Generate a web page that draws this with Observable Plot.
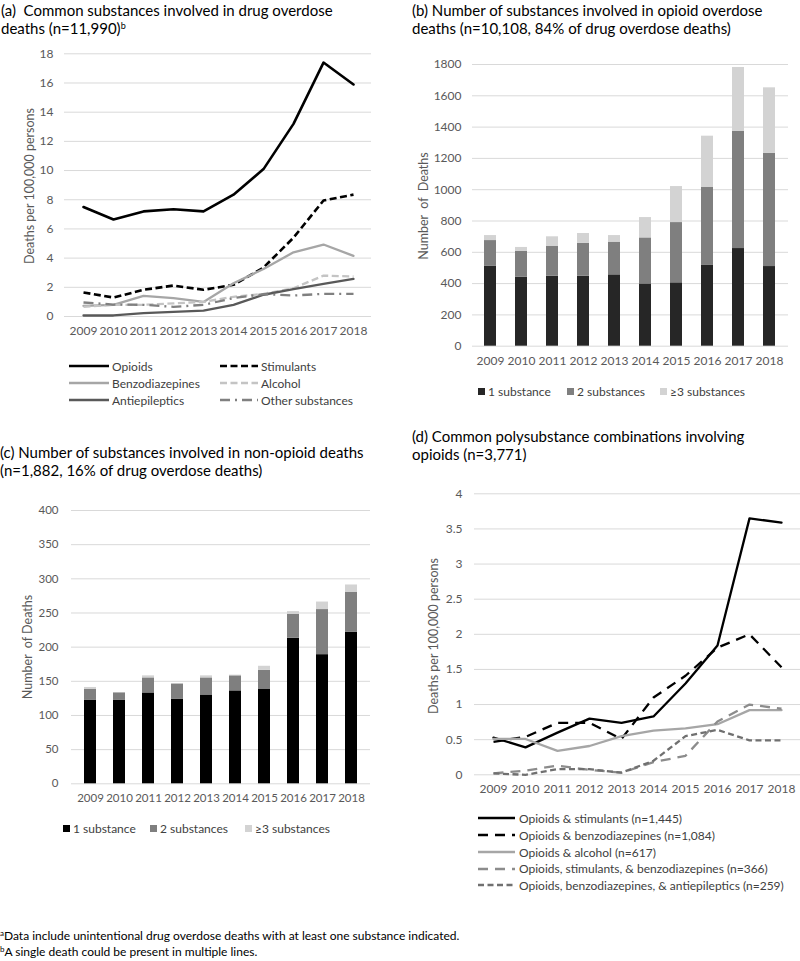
<!DOCTYPE html>
<html><head><meta charset="utf-8">
<script src="https://cdn.jsdelivr.net/npm/d3@7"></script>
<script src="https://cdn.jsdelivr.net/npm/@observablehq/plot@0.6"></script>
<style>
body{margin:0;background:#fff;}
#root{position:relative;width:800px;height:961px;overflow:hidden;font-family:Lato,sans-serif;color:#000;background:#fff;}
.abs{position:absolute;}
.title{font-size:15px;line-height:18px;white-space:nowrap;}
.title sup{font-size:9px;vertical-align:top;position:relative;top:-2px;}
.ylab{font-size:12.5px;color:#595959;white-space:nowrap;transform:translate(-50%,-50%) rotate(-90deg);}
.leg{font-size:12px;color:#404040;white-space:nowrap;display:flex;align-items:center;height:16px;}
.foot{font-size:12px;white-space:nowrap;line-height:16px;}
.foot sup{font-size:8px;vertical-align:top;position:relative;top:-3px;}
</style></head><body><div id="root"></div>
<script>
// ---------- data ----------
const years = ["2009","2010","2011","2012","2013","2014","2015","2016","2017","2018"];

// (a) rates per 100,000
const aOpioids        = [7.5, 6.65, 7.2, 7.35, 7.2, 8.35, 10.1, 13.2, 17.4, 15.9];
const aStimulants     = [1.65, 1.3, 1.83, 2.12, 1.83, 2.17, 3.35, 5.4, 7.95, 8.35];
const aBenzodiazepines= [0.73, 0.8, 1.42, 1.26, 1.0, 2.28, 3.25, 4.4, 4.93, 4.15];
const aAlcohol        = [0.66, 0.8, 0.8, 0.9, 1.0, 1.35, 1.55, 1.94, 2.8, 2.74];
const aAntiepileptics = [0.07, 0.07, 0.23, 0.32, 0.4, 0.8, 1.49, 1.88, 2.24, 2.58];
const aOther          = [0.96, 0.82, 0.8, 0.66, 0.8, 1.26, 1.53, 1.44, 1.55, 1.55];
const aNames = ["Opioids","Stimulants","Benzodiazepines","Alcohol","Antiepileptics","Other substances"];

// (b) opioid deaths by number of substances
const bOne   = [510, 440, 447, 447, 456, 398, 405, 516, 624, 509];
const bTwo   = [165, 167, 190, 211, 209, 294, 385, 498, 748, 724];
const bThree = [32, 24, 62, 62, 42, 130, 230, 328, 409, 418];

// (c) non-opioid deaths by number of substances
const cOne   = [122, 122, 133, 124, 130, 136, 138, 213, 189, 222];
const cTwo   = [16, 11, 22, 22, 25, 22, 28, 35, 66, 58];
const cThree = [3, 0, 3, 0, 3, 1, 6, 4, 11, 11];
const groups = ["1 substance","2 substances","≥3 substances"];

// (d) polysubstance combinations
const dStim      = [0.53, 0.39, 0.6, 0.8, 0.74, 0.83, 1.3, 1.84, 3.65, 3.59];
const dBenzo     = [0.47, 0.54, 0.74, 0.74, 0.51, 1.1, 1.41, 1.81, 2.0, 1.53];
const dAlcohol   = [0.51, 0.51, 0.34, 0.41, 0.55, 0.63, 0.66, 0.72, 0.92, 0.92];
const dStimBenzo = [0.02, 0.06, 0.13, 0.07, 0.03, 0.18, 0.27, 0.76, 1.0, 0.94];
const dBenzoAed  = [0.02, 0.0, 0.08, 0.08, 0.03, 0.2, 0.55, 0.64, 0.49, 0.49];
const dNames = ["Opioids & stimulants (n=1,445)","Opioids & benzodiazepines (n=1,084)","Opioids & alcohol (n=617)",
  "Opioids, stimulants, & benzodiazepines (n=366)","Opioids, benzodiazepines, & antiepileptics (n=259)"];

const aTicks = [0,2,4,6,8,10,12,14,16,18];
const bTicks = [0,200,400,600,800,1000,1200,1400,1600,1800];
const cTicks = [0,50,100,150,200,250,300,350,400];
const dTicks = [0,0.5,1,1.5,2,2.5,3,3.5,4];

// ---------- styles ----------
const aStyles = [
  {stroke:"#000000", width:2.6, dash:null},
  {stroke:"#000000", width:2.6, dash:"7,3.5"},
  {stroke:"#a6a6a6", width:2.3, dash:null},
  {stroke:"#c4c4c4", width:2.3, dash:"7,3.5"},
  {stroke:"#595959", width:2.3, dash:null},
  {stroke:"#808080", width:2.3, dash:"10,5,2,5"}
];
const dStyles = [
  {stroke:"#000000", width:2.3, dash:null},
  {stroke:"#000000", width:2.3, dash:"10,7"},
  {stroke:"#a6a6a6", width:2.3, dash:null},
  {stroke:"#8c8c8c", width:2.3, dash:"10,7"},
  {stroke:"#707070", width:2.3, dash:"6,3.5"}
];
const bColors = ["#262626","#7f7f7f","#d3d3d3"];
const cColors = ["#000000","#7f7f7f","#d3d3d3"];

const root = document.getElementById("root");
function add(html, cls, left, top){
  const d = document.createElement("div");
  d.className = "abs " + cls;
  d.style.left = left + "px"; d.style.top = top + "px";
  d.innerHTML = html; root.appendChild(d); return d;
}
const fmt = d => String(d);

function linePanel(seriesVals, styles, ticks, o){
  const marks = [
    Plot.gridY(ticks, {stroke:"#d9d9d9", strokeOpacity:1, strokeWidth:1}),
    Plot.axisY(ticks, {tickSize:0, tickPadding:o.padY, label:null, tickFormat:fmt, fill:"#595959"}),
    Plot.axisX({tickSize:0, tickPadding:10, label:null, fill:"#595959"})
  ];
  seriesVals.forEach((vals, i) => {
    const s = styles[i];
    marks.push(Plot.line(years.map((y,j)=>({year:y, value:vals[j]})), {
      x:"year", y:"value", stroke:s.stroke, strokeWidth:s.width,
      strokeDasharray:s.dash || undefined, strokeLinejoin:"round", strokeLinecap: s.dash ? "butt" : "round"
    }));
  });
  const svg = Plot.plot({
    width:o.width, height:o.height,
    marginLeft:o.ml, marginRight:o.mr, marginTop:o.mt, marginBottom:o.mb,
    style:{fontFamily:"Lato, sans-serif", fontSize:(o.fs || 12) + "px", background:"transparent", overflow:"visible"},
    x:{type:"point", domain:years, padding:0.5},
    y:{domain:[ticks[0], ticks[ticks.length-1]]},
    marks
  });
  const wrap = add("", "", o.left, o.top);
  wrap.appendChild(svg);
}

function barPanel(vals, colors, ticks, o){
  const rows = [];
  vals.forEach((arr, g) => years.forEach((y,j) => rows.push({year:y, group:groups[g], value:arr[j]})));
  const svg = Plot.plot({
    width:o.width, height:o.height,
    marginLeft:o.ml, marginRight:o.mr, marginTop:o.mt, marginBottom:o.mb,
    style:{fontFamily:"Lato, sans-serif", fontSize:(o.fs || 12) + "px", background:"transparent", overflow:"visible"},
    x:{type:"band", domain:years, paddingInner:0.6, paddingOuter:0.3},
    y:{domain:[ticks[0], ticks[ticks.length-1]]},
    color:{domain:groups, range:colors},
    marks:[
      Plot.gridY(ticks, {stroke:"#d9d9d9", strokeOpacity:1, strokeWidth:1}),
      Plot.axisY(ticks, {tickSize:0, tickPadding:o.padY, label:null, tickFormat:fmt, fill:"#595959"}),
      Plot.axisX({tickSize:0, tickPadding:10, label:null, fill:"#595959"}),
      Plot.barY(rows, {x:"year", y:"value", fill:"group"})
    ]
  });
  const wrap = add("", "", o.left, o.top);
  wrap.appendChild(svg);
}

// ---------- panel (a) ----------
linePanel([aOpioids,aStimulants,aBenzodiazepines,aAlcohol,aAntiepileptics,aOther], aStyles, aTicks,
  {left:0, top:0, width:400, height:345, ml:64, mr:29, mt:53.3, mb:29, padY:11});
// ---------- panel (b) ----------
barPanel([bOne,bTwo,bThree], bColors, bTicks,
  {left:400, top:0, width:400, height:375, ml:72, mr:12, mt:64, mb:29.3, padY:11});
// ---------- panel (c) ----------
barPanel([cOne,cTwo,cThree], cColors, cTicks,
  {left:0, top:480, width:400, height:333, ml:71, mr:30, mt:30, mb:29.7, padY:13, fs:11.5});
// ---------- panel (d) ----------
linePanel([dStim,dBenzo,dAlcohol,dStimBenzo,dBenzoAed], dStyles, dTicks,
  {left:400, top:470, width:400, height:334, ml:74, mr:0, mt:23.3, mb:29.7, padY:12});

// ---------- titles ----------
add("(a)&nbsp;&nbsp;Common substances involved in drug overdose<br>deaths (n=11,990)<sup>b</sup>", "title", 1, 1);
add("(b) Number of substances involved in opioid overdose<br>deaths (n=10,108, 84% of drug overdose deaths)", "title", 412, 1);
add("(c) Number of substances involved in non-opioid deaths<br>(n=1,882, 16% of drug overdose deaths)", "title", 0, 443);
add("(d) Common polysubstance combinations involving<br>opioids (n=3,771)", "title", 412, 427);

// ---------- y axis labels ----------
add("Deaths per 100,000 persons", "ylab", 29, 186);
add("Number&nbsp;&nbsp;of&nbsp;&nbsp;Deaths", "ylab", 423, 206);
add("Number&nbsp; of Deaths", "ylab", 27, 647);
add("Deaths per 100,000 persons", "ylab", 433, 636);

// ---------- legends ----------
function lineSwatch(s, w){
  const dash = s.dash ? ` stroke-dasharray="${s.dash}"` : "";
  return `<svg width="${w}" height="16" style="flex:none"><line x1="0" x2="${w}" y1="8" y2="8" stroke="${s.stroke}" stroke-width="${s.width}"${dash}/></svg>`;
}
const aPos = [[69,366,40],[220,366,38],[69,383,40],[220,383,38],[69,400,40],[220,400,38]];
aNames.forEach((n,i) => {
  const [x,y,w] = aPos[i];
  add(lineSwatch(aStyles[i], w) + `<span style="margin-left:3px">${n}</span>`, "leg", x, y-8);
});
dNames.forEach((n,i) => {
  const y = [818,835,852,868.5,885][i];
  add(lineSwatch(dStyles[i], 37) + `<span style="margin-left:4px">${n}</span>`, "leg", 478, y-8);
});
function boxLegend(colors, xs, y){
  groups.forEach((g,i) => {
    add(`<svg width="7" height="7" style="flex:none"><rect width="7" height="7" fill="${colors[i]}"/></svg><span style="margin-left:3px">${g}</span>`, "leg", xs[i], y-8);
  });
}
boxLegend(bColors, [478,567,660], 391);
boxLegend(cColors, [63,150,245], 828);

// ---------- footnotes ----------
add("<sup>a</sup>Data include unintentional drug overdose deaths with at least one substance indicated.", "foot", 0, 928);
add("<sup>b</sup>A single death could be present in multiple lines.", "foot", 0, 944);
</script></body></html>
